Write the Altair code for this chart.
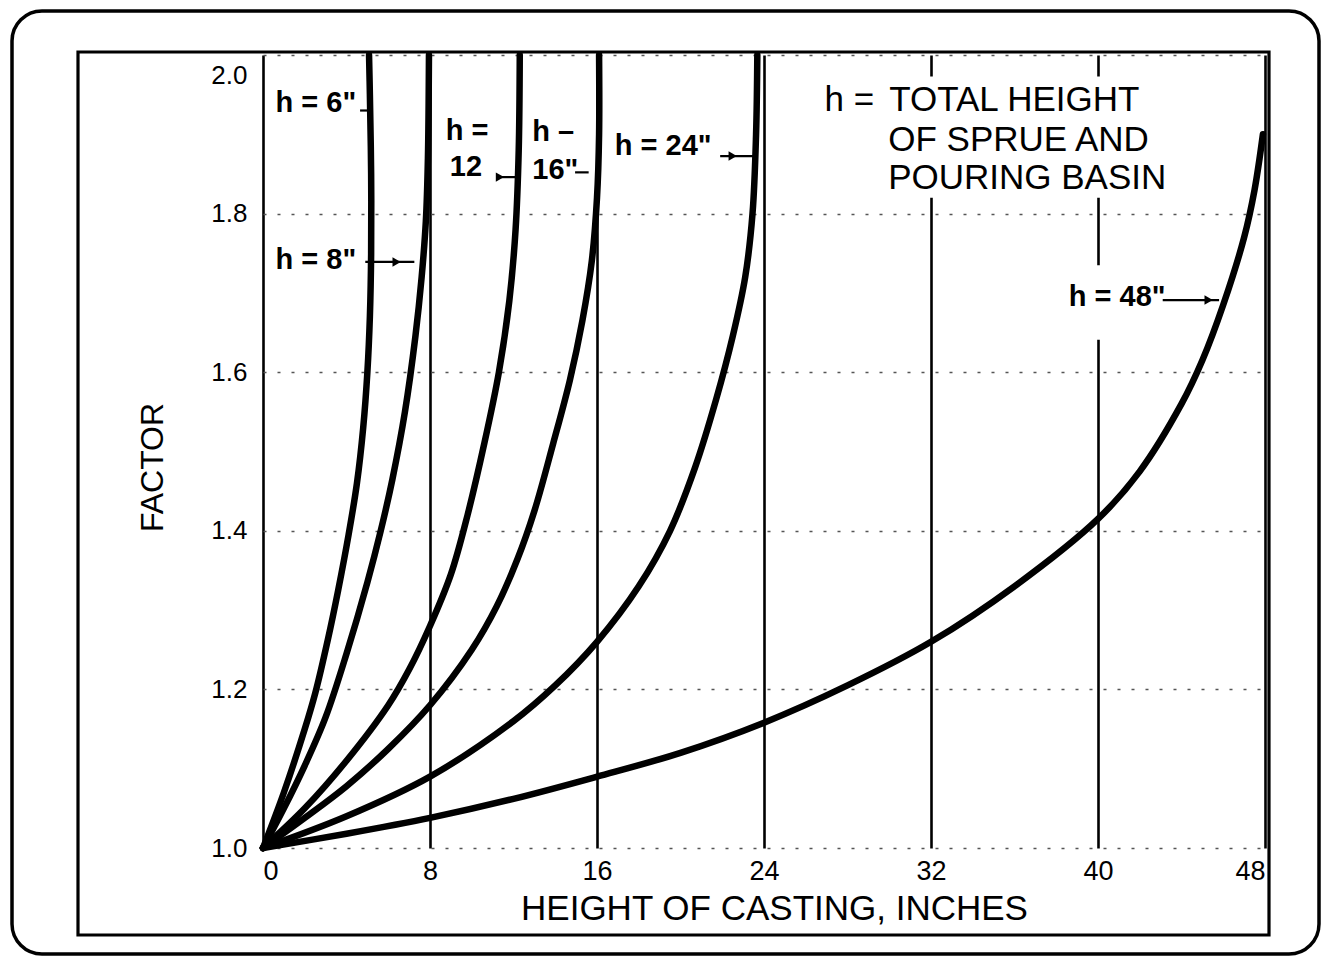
import altair as alt
import pandas as pd

# ---- data: casting height (in) -> factor ----
H6_HEIGHT = [0, 1, 2, 2.5, 3.1, 3.6, 4.1, 4.5, 4.8, 5.0, 5.12, 5.18, 5.18, 5.12, 5.08]
H6_FACTOR = [1.0, 1.07, 1.15, 1.195, 1.262, 1.325, 1.395, 1.46, 1.53, 1.60, 1.67, 1.75, 1.85, 1.95, 2.0]

H8_HEIGHT = [0, 1, 2, 3, 4, 5, 5.64, 6.2, 6.8, 7.3, 7.6, 7.8, 7.9, 7.95]
H8_FACTOR = [1.0, 1.05, 1.104, 1.165, 1.245, 1.335, 1.40, 1.465, 1.55, 1.645, 1.72, 1.79, 1.87, 2.0]

H12_HEIGHT = [0, 2, 4, 6, 7, 8, 9, 9.8, 10.6, 11.3, 11.8, 12.1, 12.25, 12.3]
H12_FACTOR = [1.0, 1.05, 1.11, 1.18, 1.225, 1.28, 1.345, 1.42, 1.51, 1.60, 1.69, 1.78, 1.88, 2.0]

H16_HEIGHT = [0, 2, 4, 6, 8, 10, 11.2, 12.2, 13, 13.9, 14.7, 15.3, 15.75, 16.0, 16.1, 16.1]
H16_FACTOR = [1.0, 1.038, 1.078, 1.125, 1.18, 1.25, 1.305, 1.365, 1.425, 1.51, 1.59, 1.665,
              1.74, 1.82, 1.9, 2.0]

H24_HEIGHT = [0, 4, 8, 12, 14, 16, 18, 19.5, 20.7, 21.7, 22.5, 23.1, 23.45, 23.62, 23.68]
H24_FACTOR = [1.0, 1.04, 1.09, 1.16, 1.205, 1.26, 1.33, 1.40, 1.48, 1.565, 1.645, 1.72, 1.80,
              1.9, 2.0]

H48_HEIGHT = [0, 4, 8, 12, 16, 20, 24, 28, 32, 36, 40, 42, 44, 45, 46, 47, 47.5, 47.9]
H48_FACTOR = [1.0, 1.018, 1.038, 1.062, 1.09, 1.12, 1.158, 1.205, 1.26, 1.33, 1.415, 1.475,
              1.56, 1.615, 1.685, 1.77, 1.83, 1.9]

CURVES = ["h6", "h8", "h12", "h16", "h24", "h48"]
X_TICKS = [0, 8, 16, 24, 32, 40, 48]
Y_TICKS = [1.0, 1.2, 1.4, 1.6, 1.8, 2.0]

X_TITLE = "HEIGHT OF CASTING, INCHES"
Y_TITLE = "FACTOR"

series = {
    "h6": (H6_HEIGHT, H6_FACTOR),
    "h8": (H8_HEIGHT, H8_FACTOR),
    "h12": (H12_HEIGHT, H12_FACTOR),
    "h16": (H16_HEIGHT, H16_FACTOR),
    "h24": (H24_HEIGHT, H24_FACTOR),
    "h48": (H48_HEIGHT, H48_FACTOR),
}
rows = []
for name in CURVES:
    xs, ys = series[name]
    for i, (xv, yv) in enumerate(zip(xs, ys)):
        rows.append({"curve": name, "height": xv, "factor": yv, "idx": i})
curve_df = pd.DataFrame(rows)

# ---- annotation layout (data units) ----
labels_df = pd.DataFrame([
    {"t": 'h = 6"', "x": 0.6, "y": 1.939},
    {"t": 'h = 8"', "x": 0.6, "y": 1.7415},
    {"t": "h =", "x": 8.75, "y": 1.904},
    {"t": "12", "x": 8.95, "y": 1.859},
    {"t": "h \u2013", "x": 12.9, "y": 1.903},
    {"t": '16"', "x": 12.9, "y": 1.855},
    {"t": 'h = 24"', "x": 16.85, "y": 1.885},
    {"t": 'h = 48"', "x": 38.6, "y": 1.695},
])
note_df = pd.DataFrame([
    {"t": "h =", "x": 26.9, "y": 1.943},
    {"t": "TOTAL HEIGHT", "x": 30.0, "y": 1.943},
    {"t": "OF SPRUE AND", "x": 29.95, "y": 1.893},
    {"t": "POURING BASIN", "x": 29.95, "y": 1.845},
])
mask_df = pd.DataFrame([
    {"x": 26.4, "x2": 44.6, "y": 1.82, "y2": 1.973},
    {"x": 38.2, "x2": 43.2, "y": 1.641, "y2": 1.735},
])
arrow_df = pd.DataFrame([
    {"a": "h6", "x": 4.65, "y": 1.93}, {"a": "h6", "x": 5.15, "y": 1.93},
    {"a": "h8", "x": 4.9, "y": 1.739}, {"a": "h8", "x": 7.25, "y": 1.739},
    {"a": "h12", "x": 11.2, "y": 1.846}, {"a": "h12", "x": 12.15, "y": 1.846},
    {"a": "h16", "x": 14.95, "y": 1.852}, {"a": "h16", "x": 15.6, "y": 1.852},
    {"a": "h24", "x": 21.9, "y": 1.8726}, {"a": "h24", "x": 23.5, "y": 1.8726},
    {"a": "h48", "x": 43.1, "y": 1.691}, {"a": "h48", "x": 45.8, "y": 1.691},
])
heads_df = pd.DataFrame([
    {"x": 6.4, "y": 1.739},
    {"x": 11.35, "y": 1.846},
    {"x": 22.5, "y": 1.8726},
    {"x": 45.3, "y": 1.691},
])

FONT = "Liberation Sans"

xscale = alt.Scale(domain=[0, 48], nice=False, zero=False)
yscale = alt.Scale(domain=[1.0, 2.0], nice=False, zero=False)

x_axis = alt.Axis(values=X_TICKS, grid=True, gridColor="black", gridWidth=2.6,
                  domain=False, ticks=False, labelFontSize=27, labelFont=FONT,
                  labelColor="black", labelPadding=10, title=X_TITLE,
                  titleFont=FONT, titleFontSize=35, titleFontWeight="normal",
                  titleColor="black", titleY=43, titleX=511, titleAlign="center",
                  titleBaseline="top", labelFlush=True)
y_axis = alt.Axis(values=Y_TICKS, grid=True, gridColor="#555", gridWidth=1.6,
                  gridDash=[3, 11], domain=False, ticks=False, format=".1f",
                  labelFontSize=26, labelFont=FONT, labelColor="black",
                  labelPadding=16,
                  labelOffset=alt.condition("datum.value == 2", alt.value(20), alt.value(0)),
                  title=Y_TITLE, titleFont=FONT,
                  titleFontSize=32, titleFontWeight="normal", titleColor="black",
                  titleX=-111, titleY=412, titleBaseline="middle", labelFlush=False)

one = alt.Data(values=[{"k": 1}])

outer = alt.Chart(one).mark_rect(filled=False, stroke="black", strokeWidth=3.5,
                                 cornerRadius=30).encode(
    x=alt.value(-251), x2=alt.value(1056), y=alt.value(-44), y2=alt.value(899))
inner = alt.Chart(one).mark_rect(filled=False, stroke="black", strokeWidth=3.2).encode(
    x=alt.value(-185), x2=alt.value(1006), y=alt.value(-3), y2=alt.value(880))

masks = alt.Chart(mask_df).mark_rect(color="white").encode(
    x=alt.X("x:Q", scale=xscale, axis=x_axis), x2="x2:Q",
    y=alt.Y("y:Q", scale=yscale, axis=y_axis), y2="y2:Q")

lines = alt.Chart(curve_df).mark_line(color="black", interpolate="catmull-rom",
                                      strokeCap="round", strokeJoin="round").encode(
    x=alt.X("height:Q", scale=xscale),
    y=alt.Y("factor:Q", scale=yscale),
    detail="curve:N",
    order="idx:Q",
    strokeWidth=alt.StrokeWidth("curve:N", scale=alt.Scale(domain=CURVES,
                                range=[6.5, 6.5, 5.5, 5.2, 4.6, 4.0]), legend=None),
)

arrows = alt.Chart(arrow_df).mark_line(color="black", strokeWidth=2.2).encode(
    x=alt.X("x:Q", scale=xscale), y=alt.Y("y:Q", scale=yscale), detail="a:N")
heads = alt.Chart(heads_df).mark_point(shape="triangle-right", filled=True,
                                       color="black", size=90, opacity=1).encode(
    x=alt.X("x:Q", scale=xscale), y=alt.Y("y:Q", scale=yscale))

curve_labels = alt.Chart(labels_df).mark_text(align="left", baseline="middle",
                                              font=FONT, fontWeight="bold",
                                              fontSize=29, color="black").encode(
    x=alt.X("x:Q", scale=xscale), y=alt.Y("y:Q", scale=yscale), text="t:N")

note = alt.Chart(note_df).mark_text(align="left", baseline="middle", font=FONT,
                                    fontSize=35, color="black").encode(
    x=alt.X("x:Q", scale=xscale), y=alt.Y("y:Q", scale=yscale), text="t:N")

chart = alt.layer(masks, lines, arrows, heads, curve_labels, note, inner, outer).properties(
    width=1002, height=793,
    autosize=alt.AutoSizeParams(type="none"),
    padding={"left": 255, "top": 47, "right": 58, "bottom": 109},
    background="white",
).configure_view(stroke=None)

chart.save("out.html", embed_options={"renderer": "svg", "actions": False})
